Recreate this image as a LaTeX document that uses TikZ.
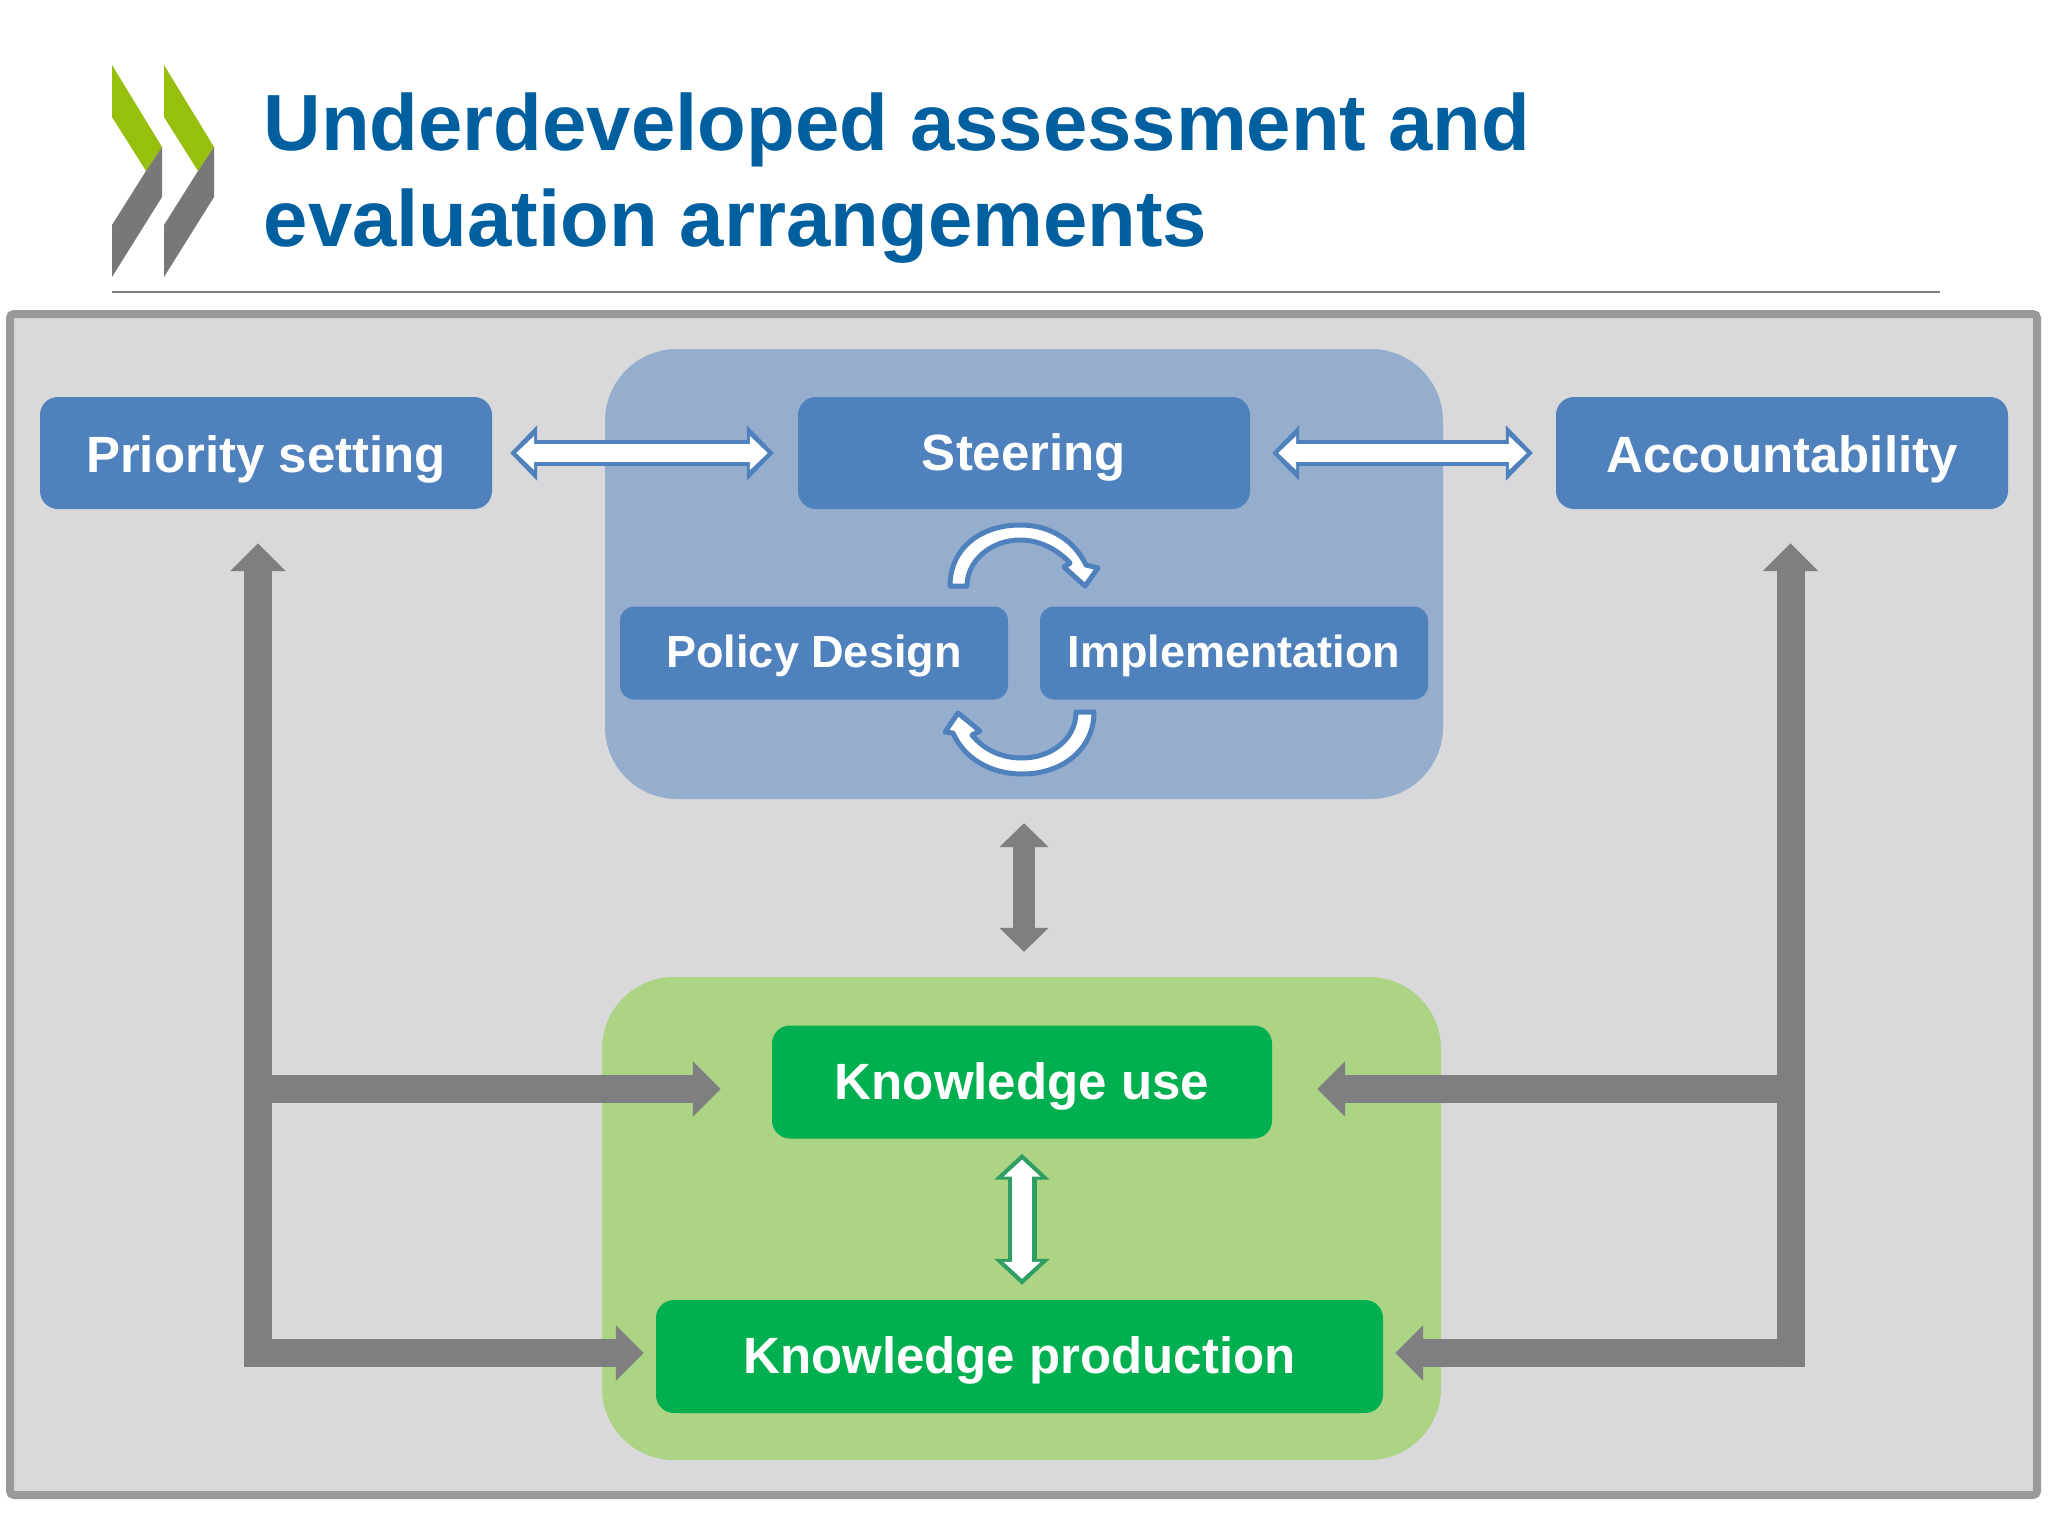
\documentclass[tikz,border=0pt]{standalone}
\usepackage{fontspec}
\setmainfont{Liberation Sans}
\usetikzlibrary{arrows.meta,calc}
\definecolor{titleblue}{HTML}{005F9E}
\definecolor{framefill}{HTML}{D9D8DA}
\definecolor{framedraw}{HTML}{999999}
\definecolor{regblue}{HTML}{96AECD}
\definecolor{nodeblue}{HTML}{4F81BD}
\definecolor{reggreen}{HTML}{ADD384}
\definecolor{nodegreen}{HTML}{00B050}
\definecolor{arrowgrey}{HTML}{7F7E80}
\definecolor{strokegreen}{HTML}{2E9E62}
\definecolor{logogreen}{HTML}{97BF0D}
\definecolor{logogrey}{HTML}{787878}
\newcommand{\dropped}[2]{\raisebox{-#1pt}[\height][\depth]{#2}}
\tikzset{
  box/.style={rounded corners=#1,minimum width=0pt,inner sep=0pt,text=white,font=\bfseries},
  blueL/.style={box=18pt,fill=nodeblue,minimum width=452pt,minimum height=112pt,font=\bfseries\fontsize{51}{51}\selectfont},
  blueS/.style={box=14pt,fill=nodeblue,minimum width=388pt,minimum height=93pt,font=\bfseries\fontsize{45}{45}\selectfont},
  greenN/.style={box=18pt,fill=nodegreen,minimum height=113pt,font=\bfseries\fontsize{51}{51}\selectfont},
  region/.style={rounded corners=72pt,inner sep=0pt},
  titletext/.style={anchor=base west,inner sep=0pt,text=titleblue,font=\bfseries\fontsize{79.7}{80}\selectfont},
  greybar/.style={draw=arrowgrey,line width=28pt,-{Triangle[length=28pt,width=54pt]}},
  greydbl/.style={draw=arrowgrey,line width=22pt,{Triangle[length=24pt,width=48pt]}-{Triangle[length=24pt,width=48pt]}},
  bluedbl/.style n args={2}{draw=nodeblue,line width=26pt,shorten <=#1,shorten >=#2,{Triangle[length=27pt,width=54pt]}-{Triangle[length=27pt,width=54pt]},
     postaction={draw=white,line width=18pt,{Triangle[length=18pt,width=33pt]}-{Triangle[length=18pt,width=33pt]},shorten <=#1+6pt,shorten >=#2+6pt}},
  greendbl/.style={draw=strokegreen,line width=29pt,shorten <=15pt,shorten >=15pt,{Triangle[length=26pt,width=54pt]}-{Triangle[length=26pt,width=54pt]},
     postaction={draw=white,line width=20pt,{Triangle[length=17pt,width=36pt]}-{Triangle[length=17pt,width=36pt]},shorten <=21pt,shorten >=21pt}},
  curved/.style={draw=nodeblue,fill=white,line width=5pt,line join=round},
}
\begin{document}
\begin{tikzpicture}[x=1pt,y=-1pt]
\useasboundingbox (0,0) rectangle (2048,1536);
\fill[white] (0,0) rectangle (2048,1536);
% logo
\foreach \dx in {0,52}{
  \fill[logogreen,shift={(\dx,0)}] (112,65) -- (162,147) -- (146,171) -- (112,117) -- cycle;
  \fill[logogrey,shift={(\dx,0)}] (162,147) -- (162,197) -- (112,277) -- (112,225) -- (146,171) -- cycle;
}
\node[titletext] (t1) at (263.5,150) {Underdeveloped assessment and};
\node[titletext] (t2) at (263.5,246) {evaluation arrangements};
\draw[arrowgrey,line width=1.5pt] (112,292) -- (1940,292);
% frame
\draw[fill=framefill,draw=framedraw,line width=8pt,rounded corners=4pt] (10,314) rectangle (2037,1495);
% regions
\node[region,fill=regblue,minimum width=838pt,minimum height=450pt] (blue) at (1024,574) {};
\node[region,fill=reggreen,minimum width=839pt,minimum height=483pt] (green) at (1021.5,1218.5) {};
% nodes
\node[blueL] (pri) at (266,453) {\dropped{6}{Priority setting}};
\node[blueL] (st) at (1024,453) {\dropped{4}{Steering}};
\node[blueL] (acc) at (1782,453) {\dropped{6}{Accountability}};
\node[blueS] (pd) at (814,653) {\dropped{3}{Policy Design}};
\node[blueS] (im) at (1234,653) {\dropped{3}{Implementation}};
\node[greenN,minimum width=500pt] (ku) at (1022,1082) {\dropped{4}{Knowledge use}};
\node[greenN,minimum width=727pt] (kp) at (1019.5,1356.5) {\dropped{4}{Knowledge production}};
% trunk coordinates
\coordinate (lbot) at (258,1367);
\coordinate (rbot) at (1790.5,1367);
\coordinate (lu) at (258,1089);
\coordinate (ll) at (258,1353);
\coordinate (ru) at (1790.5,1089);
\coordinate (rl) at (1790.5,1353);
% grey connectors
\draw[greybar,shorten >=34pt] (lbot) -- (lbot |- pri.south);
\draw[greybar,shorten >=34pt] (rbot) -- (rbot |- acc.south);
\draw[greybar,shorten >=51pt] (lu) -- (lu -| ku.west);
\draw[greybar,shorten >=12pt] (ll) -- (ll -| kp.west);
\draw[greybar,shorten >=45pt] (ru) -- (ru -| ku.east);
\draw[greybar,shorten >=12pt] (rl) -- (rl -| kp.east);
\draw[greydbl,xshift=-1pt,shorten <=24pt,shorten >=25pt] (blue.south) -- (blue.south |- green.north);
% white double arrows
\draw[bluedbl={18pt}{24pt}] (pri.east) -- (st.west);
\draw[bluedbl={22pt}{23pt}] (st.east) -- (acc.west);
\draw[greendbl,xshift=1pt] (ku.south) -- (ku.south |- kp.north);
% cycle arrows
\draw[curved] (950,586) .. controls (950,548) and (981,525) .. (1020,525)
  .. controls (1050,525) and (1074,540) .. (1086,565) -- (1098,568) -- (1085,586) -- (1064,567) -- (1070,563)
  .. controls (1058,550) and (1040,540) .. (1020,540)
  .. controls (992,540) and (967,560) .. (967,586) -- cycle;
\draw[curved] (1094,712) .. controls (1094,748) and (1064,774) .. (1022,774)
  .. controls (990,774) and (964,758) .. (953,733) -- (945,732) -- (958,713) -- (980,731) -- (972,735)
  .. controls (984,750) and (1002,758) .. (1022,758)
  .. controls (1050,758) and (1076,740) .. (1076,712) -- cycle;
\end{tikzpicture}
\end{document}
